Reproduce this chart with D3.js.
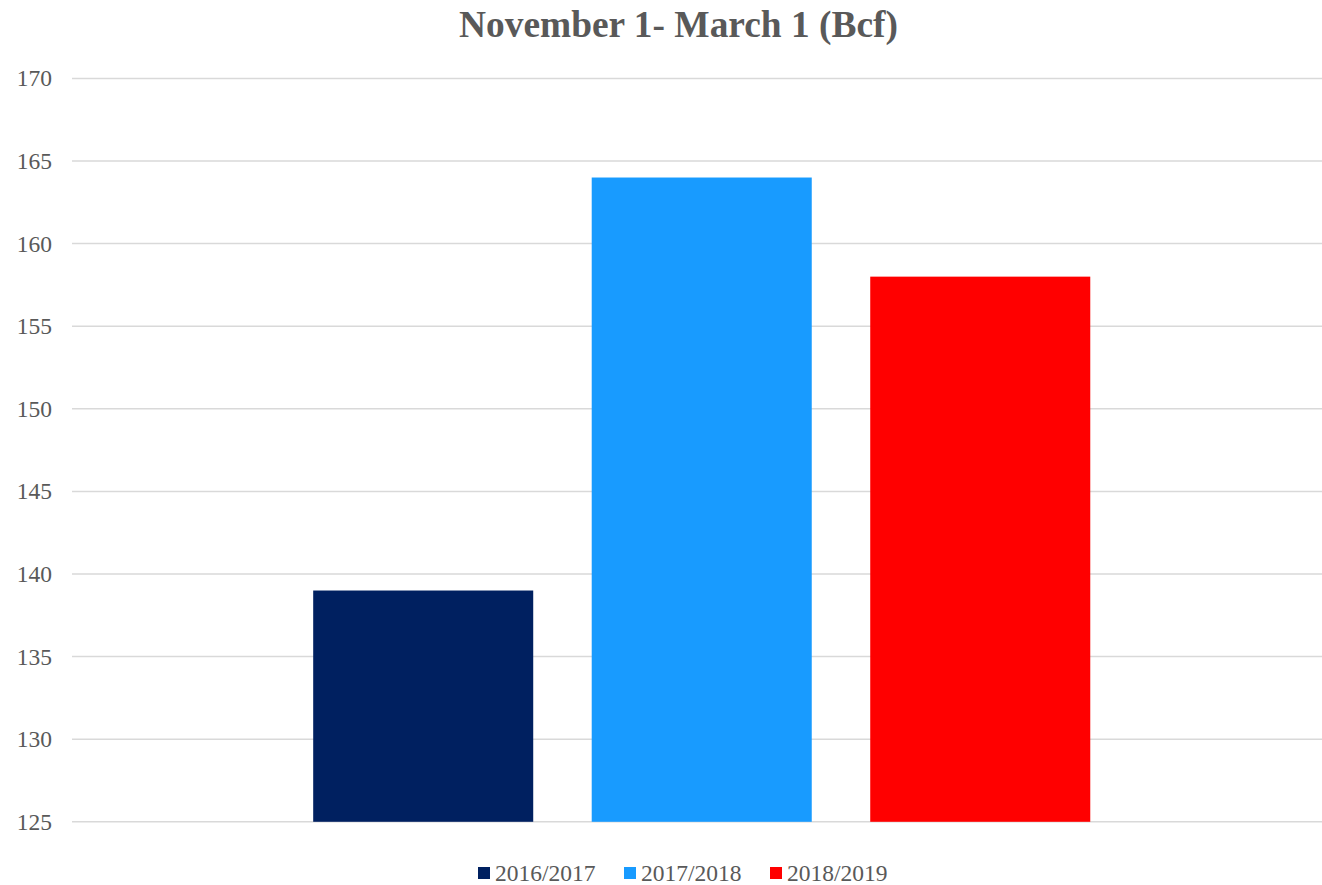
<!DOCTYPE html>
<html><head><meta charset="utf-8">
<script src="https://d3js.org/d3.v7.min.js"></script>
<style>body{margin:0;background:#fff}svg{display:block}</style>
</head><body>
<script>
const title = "November 1- March 1 (Bcf)";
const seriesNames = ["2016/2017", "2017/2018", "2018/2019"];
const seriesValues = [139, 164, 158];
const seriesColors = ["#002060", "#189BFF", "#FF0000"];
const yTicks = [125, 130, 135, 140, 145, 150, 155, 160, 165, 170];

const W = 1322, H = 885;
const svg = d3.select("body").append("svg").attr("width", W).attr("height", H);
const font = "'Liberation Serif','Times New Roman',serif";
const plot = {left: 72, right: 1322, top: 78.4, bottom: 821.8};

const y = d3.scaleLinear().domain([125, 170]).range([plot.bottom, plot.top]);
const x = d3.scaleBand().domain(seriesNames).range([plot.left, plot.right])
  .paddingInner(0.21).paddingOuter(0.849).align(0.51);

// gridlines
svg.append("g").selectAll("line").data(yTicks).join("line")
  .attr("x1", plot.left).attr("x2", plot.right)
  .attr("y1", d => y(d)).attr("y2", d => y(d))
  .attr("stroke", "#d9d9d9").attr("stroke-width", 1.5);

// y labels
const yAxis = d3.axisLeft(y).tickValues(yTicks).tickSize(0).tickPadding(0);
const ga = svg.append("g").attr("transform", `translate(52,0)`).call(yAxis);
ga.select(".domain").remove();
ga.selectAll("text").attr("font-family", font).attr("font-size", 23.5)
  .attr("fill", "#595959").attr("dy", "0.32em").attr("text-anchor", "end").attr("x", 0);

// bars
svg.append("g").selectAll("rect").data(seriesNames).join("rect")
  .attr("x", d => x(d)).attr("width", x.bandwidth())
  .attr("y", (d, i) => y(seriesValues[i]))
  .attr("height", (d, i) => y(125) - y(seriesValues[i]))
  .attr("fill", (d, i) => seriesColors[i]);

// title
svg.append("text").attr("x", 678.5).attr("y", 37).attr("text-anchor", "middle")
  .attr("font-family", font).attr("font-weight", "bold").attr("font-size", 37.4)
  .attr("fill", "#595959").text(title);

// legend
const legX = [478, 624, 770];
const lg = svg.append("g").selectAll("g").data(seriesNames).join("g")
  .attr("transform", (d, i) => `translate(${legX[i]},867)`);
lg.append("rect").attr("width", 12).attr("height", 12).attr("fill", (d, i) => seriesColors[i]);
lg.append("text").attr("x", 17).attr("y", 14).attr("font-family", font).attr("font-size", 23.5)
  .attr("fill", "#595959").text(d => d);
</script>
</body></html>
